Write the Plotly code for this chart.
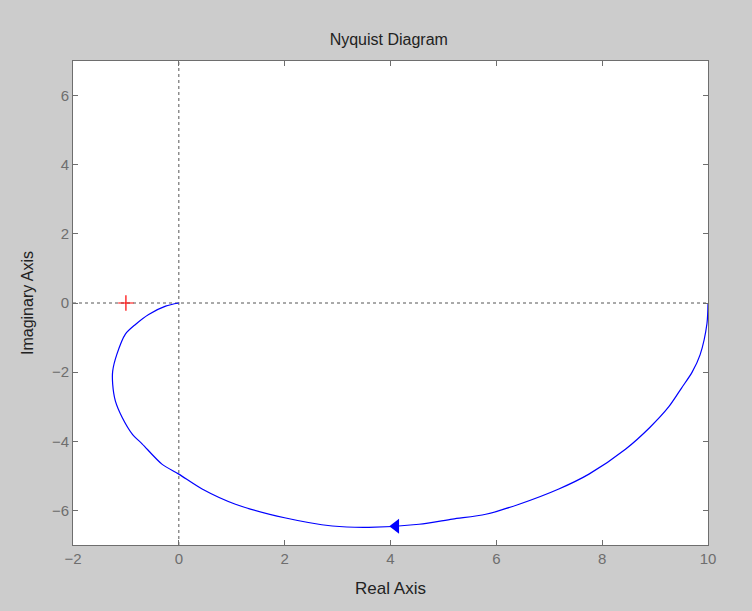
import plotly.graph_objects as go

# Nyquist curve (from omega=0 to omega->inf)
re_vals = [10.0, 9.98, 9.85, 9.70, 9.50, 9.26, 8.90, 8.44, 7.75, 7.18, 6.43, 5.80, 5.17,
           4.54, 3.59, 2.90, 2.02, 1.07, 0.44, 0.0, -0.32, -0.69, -0.88, -1.07, -1.20,
           -1.25, -1.25, -1.17, -1.01, -0.82, -0.57, -0.25, 0.0]
im_vals = [0.0, -0.60, -1.50, -2.00, -2.46, -3.00, -3.60, -4.23, -4.95, -5.38, -5.82, -6.11, -6.25,
           -6.40, -6.49, -6.45, -6.22, -5.82, -5.38, -4.95, -4.66, -4.08, -3.79, -3.31, -2.83,
           -2.35, -1.97, -1.48, -0.90, -0.62, -0.33, -0.09, 0.0]
arrow_pt = (4.1, -6.46)
critical_pt = (-1.0, 0.0)
x_ticks = [-2, 0, 2, 4, 6, 8, 10]
y_ticks = [-6, -4, -2, 0, 2, 4, 6]
x_range = [-2, 10]
y_range = [-7, 7]

fig = go.Figure()
# reference axes (dotted)
fig.add_trace(go.Scatter(x=x_range, y=[0, 0], mode="lines",
                         line=dict(color="#555555", width=1, dash="3px,3px"), hoverinfo="skip"))
fig.add_trace(go.Scatter(x=[0, 0], y=y_range, mode="lines",
                         line=dict(color="#555555", width=1, dash="3px,3px"), hoverinfo="skip"))
fig.add_trace(go.Scatter(x=re_vals, y=im_vals, mode="lines",
                         line=dict(color="#0000ff", width=1.2, shape="spline", smoothing=0.8)))
fig.add_trace(go.Scatter(x=[arrow_pt[0]], y=[arrow_pt[1]], mode="markers",
                         marker=dict(symbol="triangle-left", size=13, color="#0000ff",
                                     line=dict(width=0))))
fig.add_trace(go.Scatter(x=[critical_pt[0]], y=[critical_pt[1]], mode="markers",
                         marker=dict(symbol="cross-thin", size=11,
                                     line=dict(color="#ff0000", width=1.2))))

axis_common = dict(showgrid=False, zeroline=False, ticks="inside", ticklen=5,
                   tickcolor="#6e6e6e", showline=True, linecolor="#6e6e6e", linewidth=1,
                   mirror="ticks", tickfont=dict(family="Arial", size=15, color="#6e6e6e"))

fig.update_layout(
    width=752, height=611,
    paper_bgcolor="#cccccc", plot_bgcolor="#ffffff",
    showlegend=False,
    margin=dict(l=73, r=44, t=61, b=66),
    title=dict(text="Nyquist Diagram", x=0.517, xanchor="center", y=0.935, yanchor="middle",
               font=dict(family="Arial", size=16, color="#222222")),
    xaxis=dict(range=x_range, tickvals=x_ticks,
               title=dict(text="Real Axis", standoff=16,
                          font=dict(family="Arial", size=17, color="#222222")),
               **axis_common),
    yaxis=dict(range=y_range, tickvals=y_ticks,
               title=dict(text="Imaginary Axis", standoff=14,
                          font=dict(family="Arial", size=16, color="#222222")),
               **axis_common),
)

fig.write_html("out.html")
